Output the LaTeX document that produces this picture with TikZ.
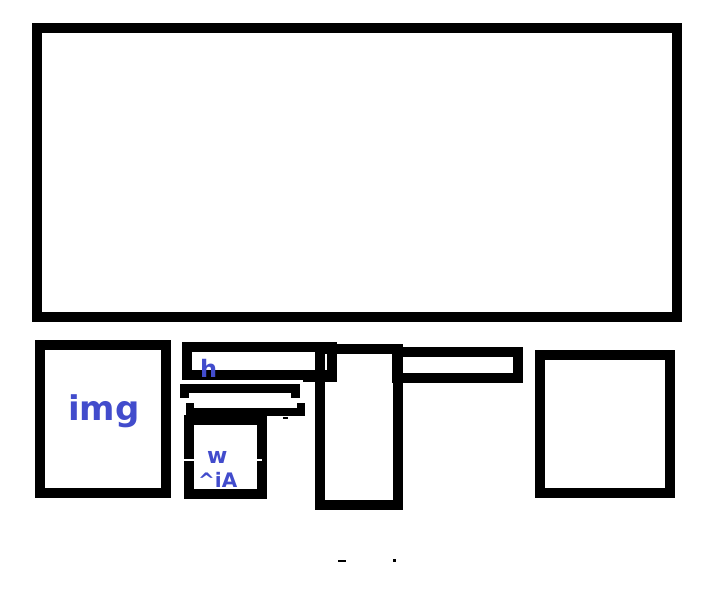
\documentclass[tikz,border=0pt]{standalone}
\usepackage{fontspec}
\usepackage{xcolor}
\newfontfamily\scrawl{DejaVu Sans}
\definecolor{ink}{RGB}{66,76,204}
\usetikzlibrary{positioning}

\begin{document}
\begin{tikzpicture}[x=1pt, y=-1pt,
    frame/.style={draw, line width=10pt, inner sep=0pt, outer sep=0pt},
    bracket/.style={line width=9pt, line cap=butt, line join=miter},
    note/.style={text=ink, inner sep=0pt, font=\scrawl\bfseries}
  ]
    \useasboundingbox (0,0) rectangle (710,599);
    % panels
    \node[frame, minimum width=640pt, minimum height=289pt] (banner) at (357,172.5) {};
    \node[frame, minimum width=126pt, minimum height=148pt] (imgbox) at (103,419) {};
    \node[frame, minimum width=145pt, minimum height=28pt] (hbar) at (259.5,361) {};
    \node[frame, minimum width=78pt, minimum height=156pt] (tallbox) at (359,426.5) {};
    \node[frame, minimum width=121pt, minimum height=26pt] (rbar) at (457.5,365) {};
    \node[frame, minimum width=130pt, minimum height=138pt] (rsquare) at (605,424) {};
    \node[frame, minimum width=73pt, minimum height=74pt] (widbox) at (225.5,457) {};
    \fill (303,372) rectangle (337,382);
    % bars between
    \draw[bracket] (184,397.7) -- (184,388.5) -- (295,388.5) -- (295,397.7);
    \draw[bracket, line width=8pt] (190,403) -- (190,412) -- (301,412) -- (301,403);
    % stray marks
    \draw[line width=1.5pt] (283,418) -- (288,418);
    \draw[line width=2pt] (338,560.7) -- (346,560.7);
    \draw[line width=2.5pt] (393,560.7) -- (396,560.7);
    \draw[white, line width=1.5pt] (183,460) -- (262,460);
    % labels
    \node[note, anchor=base west, font=\scrawl\bfseries\fontsize{34}{36}\selectfont] (imglbl) at (68,420) {img};
    \node[note, anchor=base west, font=\scrawl\bfseries\fontsize{24}{26}\selectfont] (hlbl) at (200,377) {h};
    \node[note, anchor=base west, font=\scrawl\bfseries\fontsize{22}{24}\selectfont] (wlbl) at (207,463) {w};
    \node[note, anchor=base west, font=\scrawl\bfseries\fontsize{20}{22}\selectfont] (idlbl) at (198,487) {\textasciicircum iA};
\end{tikzpicture}
\end{document}
